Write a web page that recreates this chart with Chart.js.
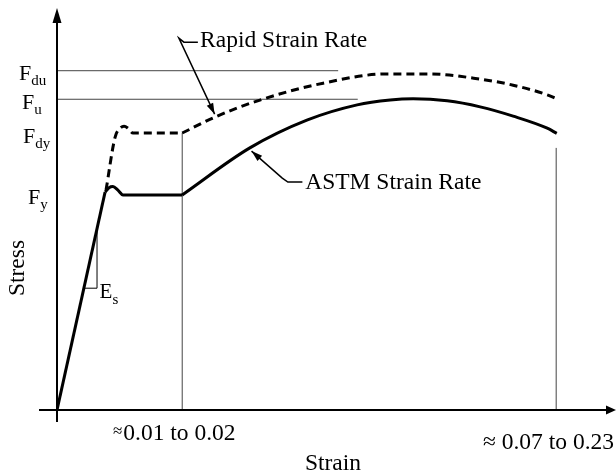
<!DOCTYPE html>
<html>
<head>
<meta charset="utf-8">
<script src="https://cdn.jsdelivr.net/npm/chart.js@4"></script>
<style>
  html, body { margin: 0; padding: 0; background: #fff; }
  #wrap { width: 616px; height: 472px; }
</style>
</head>
<body>
<div id="wrap"><canvas id="c" width="616" height="472"></canvas></div>
<script>
// ---- data (schematic units: strain 0..100, stress 0..100) ----
const astmElastic   = [[0, 0], [8.6, 54.2]];
const astmYield     = [[8.6, 54.2], [9.3, 55.3], [10.0, 55.6], [10.9, 54.7], [11.8, 53.5], [22.4, 53.5]];
const astmHardening = [[22.4, 53.5], [34.5, 65.2], [44.7, 72.1], [53.7, 75.9], [59.6, 77.1],
                       [63.7, 77.4], [69.8, 76.9], [75.7, 75.4], [81.6, 73.1], [87.7, 70.1], [89.4, 68.8]];
const rapidYield    = [[8.77, 54.7], [10.4, 67.9], [11.3, 70.1], [12.0, 70.6], [12.7, 70.1], [13.6, 68.9], [22.4, 68.9]];
const rapidHardening= [[22.4, 68.9], [28.3, 72.9], [36.3, 77.1], [47.6, 81.3], [59.0, 83.6], [66.7, 83.6],
                       [75.7, 82.3], [81.6, 80.8], [87.7, 78.4], [89.4, 77.4]];
const stressLevels  = [84.4, 77.3, 68.9, 53.5];
const stressLabels  = [["F", "du"], ["F", "u"], ["F", "dy"], ["F", "y"]];
const refLineEnds   = [50.3, 53.8];        // extent of the F_du and F_u guide lines
const strainMarks   = [22.4, 89.3];
const strainMarkTop = [68.9, 65.2];
const strainLabels  = [["\u2248", "0.01 to 0.02"], ["\u2248 ", "0.07 to 0.23"]];
const modulusTri    = [[5.0, 30.3], [7.16, 30.3], [7.16, 44.5]];
const curveNames    = ["Rapid Strain Rate", "ASTM Strain Rate"];
const axisTitles    = ["Strain", "Stress"];

const toPts = a => a.map(p => ({x: p[0], y: p[1]}));
const SERIF = '"Liberation Serif", "Times New Roman", serif';

const thin = (data) => ({data: toPts(data), showLine: true, borderColor: '#444', borderWidth: 1,
  pointRadius: 0, tension: 0, order: 5});

const datasets = [
  {label: 'ASTM elastic', data: toPts(astmElastic), showLine: true, borderColor: '#000', borderWidth: 3, pointRadius: 0, tension: 0, order: 1},
  {label: 'ASTM yield', data: toPts(astmYield), showLine: true, borderColor: '#000', borderWidth: 3, pointRadius: 0, cubicInterpolationMode: 'monotone', order: 1},
  {label: 'ASTM hardening', data: toPts(astmHardening), showLine: true, borderColor: '#000', borderWidth: 3, pointRadius: 0, cubicInterpolationMode: 'monotone', order: 1},
  {label: 'Rapid yield', data: toPts(rapidYield), showLine: true, borderColor: '#000', borderWidth: 3, borderDash: [8, 5], pointRadius: 0, cubicInterpolationMode: 'monotone', order: 1},
  {label: 'Rapid hardening', data: toPts(rapidHardening), showLine: true, borderColor: '#000', borderWidth: 3, borderDash: [8, 5], pointRadius: 0, cubicInterpolationMode: 'monotone', order: 1},
  thin([[0, stressLevels[0]], [refLineEnds[0], stressLevels[0]]]),
  thin([[0, stressLevels[1]], [refLineEnds[1], stressLevels[1]]]),
  thin([[strainMarks[0], 0], [strainMarks[0], strainMarkTop[0]]]),
  thin([[strainMarks[1], 0], [strainMarks[1], strainMarkTop[1]]]),
  Object.assign(thin(modulusTri), {borderColor: '#000'})
];

function arrowHead(ctx, x1, y1, x2, y2, len, half) {
  const a = Math.atan2(y2 - y1, x2 - x1);
  ctx.beginPath();
  ctx.moveTo(x2, y2);
  ctx.lineTo(x2 - len * Math.cos(a) + half * Math.sin(a), y2 - len * Math.sin(a) - half * Math.cos(a));
  ctx.lineTo(x2 - len * Math.cos(a) - half * Math.sin(a), y2 - len * Math.sin(a) + half * Math.cos(a));
  ctx.closePath();
  ctx.fill();
}

const decor = {
  id: 'decor',
  afterDraw(chart) {
    const ctx = chart.ctx, xs = chart.scales.x, ys = chart.scales.y;
    const X = v => xs.getPixelForValue(v), Y = v => ys.getPixelForValue(v);
    const x0 = X(0), y0 = Y(0);
    ctx.save();
    ctx.strokeStyle = '#000'; ctx.fillStyle = '#000';
    // axes
    ctx.lineWidth = 2;
    ctx.beginPath();
    ctx.moveTo(x0, y0 + 12); ctx.lineTo(x0, chart.chartArea.top + 10);
    ctx.moveTo(x0 - 18, y0); ctx.lineTo(chart.chartArea.right - 8, y0);
    ctx.stroke();
    arrowHead(ctx, x0, y0, x0, chart.chartArea.top, 15, 4.5);
    arrowHead(ctx, x0, y0, chart.chartArea.right, y0, 10, 4.5);

    // y tick labels with subscripts
    const lefts = [19, 22, 23, 28];
    stressLevels.forEach((v, i) => {
      const base = Y(v) + 9.5;
      ctx.font = '22px ' + SERIF; ctx.textAlign = 'left'; ctx.textBaseline = 'alphabetic';
      ctx.fillText(stressLabels[i][0], lefts[i], base);
      const w = ctx.measureText(stressLabels[i][0]).width;
      ctx.font = '15px ' + SERIF;
      ctx.fillText(stressLabels[i][1], lefts[i] + w, base + 5);
    });

    // x tick labels
    ctx.textAlign = 'left';
    ctx.font = '17px ' + SERIF;
    ctx.fillText(strainLabels[0][0], 113, y0 + 26);
    let w0 = ctx.measureText(strainLabels[0][0]).width;
    ctx.font = '23.5px ' + SERIF;
    ctx.fillText(strainLabels[0][1], 113 + w0 + 1, y0 + 30);
    ctx.textAlign = 'right';
    ctx.fillText(strainLabels[1].join(''), chart.chartArea.right - 2, y0 + 39);

    // axis titles
    ctx.textAlign = 'center';
    ctx.fillText(axisTitles[0], 333, y0 + 60);
    ctx.save();
    ctx.translate(24, 268); ctx.rotate(-Math.PI / 2);
    ctx.fillText(axisTitles[1], 0, 0);
    ctx.restore();

    // E_s label
    ctx.textAlign = 'left';
    ctx.font = '21px ' + SERIF;
    ctx.fillText('E', X(7.6), Y(27.8));
    ctx.font = '15px ' + SERIF;
    ctx.fillText('s', X(7.6) + 13, Y(26.4));

    // annotations with leaders
    ctx.lineWidth = 1.5;
    ctx.font = '23.5px ' + SERIF;
    ctx.fillText(curveNames[0], X(25.6), Y(90.3));
    ctx.beginPath();
    ctx.moveTo(X(25.2), Y(91.5)); ctx.lineTo(X(22.7), Y(91.5)); ctx.lineTo(X(21.8), Y(92.5));
    ctx.lineTo(X(28.2), Y(73.6));
    ctx.stroke();
    arrowHead(ctx, X(21.8), Y(92.5), X(28.2), Y(73.6), 11, 3.5);

    ctx.fillText(curveNames[1], X(44.4), Y(55.0));
    ctx.beginPath();
    ctx.moveTo(X(43.9), Y(56.7)); ctx.lineTo(X(41.3), Y(56.7)); ctx.lineTo(X(40.3), Y(57.7));
    ctx.lineTo(X(34.8), Y(64.4));
    ctx.stroke();
    arrowHead(ctx, X(40.3), Y(57.7), X(34.8), Y(64.4), 11, 3.5);
    ctx.restore();
  }
};

new Chart(document.getElementById('c'), {
  type: 'scatter',
  data: { datasets },
  options: {
    responsive: false,
    devicePixelRatio: 1,
    animation: false,
    layout: { padding: { left: 57, right: 0, top: 8, bottom: 62 } },
    plugins: { legend: { display: false }, tooltip: { enabled: false } },
    scales: {
      x: { type: 'linear', min: 0, max: 100, display: false },
      y: { type: 'linear', min: 0, max: 100, display: false }
    }
  },
  plugins: [decor]
});
</script>
</body>
</html>
